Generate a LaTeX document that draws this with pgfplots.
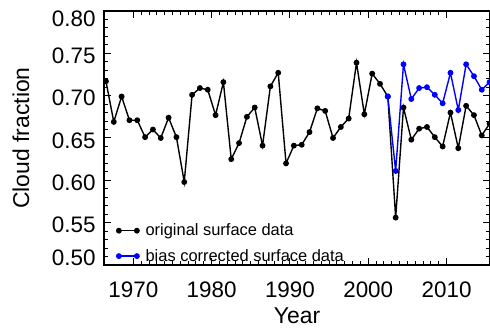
\documentclass[border=0pt]{standalone}
\usepackage{fontspec}
\setmainfont{Liberation Sans}
\usepackage{pgfplots}
\pgfplotsset{compat=1.18}
\definecolor{bluec}{RGB}{0,0,255}
\begin{document}
\begin{tikzpicture}
\begin{axis}[
  at={(0,0)}, anchor=south west,
  scale only axis, width=386bp, height=254bp,
  xmin=1966.25, xmax=2015.55, ymin=0.5, ymax=0.8,
  xtick={1970,1980,1990,2000,2010}, minor x tick num=9,
  ytick={0.50,0.55,0.60,0.65,0.70,0.75,0.80}, minor y tick num=4,
  yticklabels={\raisebox{10bp}{0.50},0.55,0.60,0.65,0.70,0.75,\raisebox{-6bp}{0.80}},
  tick align=inside, major tick length=7bp, minor tick length=4bp,
  tick style={black, line width=1bp},
  axis line style={line width=1.3bp},
  ticklabel style={font=\fontsize{22.5}{26}\selectfont},
  xticklabel style={anchor=base, yshift=-32bp},
  yticklabel style={anchor=base east, xshift=-5bp, yshift=-10bp},
  /pgf/number format/1000 sep={},
  /pgf/number format/assume math mode=true,
  xlabel={Year}, ylabel={Cloud fraction},
  every axis x label/.style={at={(rel axis cs:0.5,0)}, anchor=base, yshift=-58bp, font=\fontsize{23}{27}\selectfont},
  every axis y label/.style={at={(rel axis cs:-0.215,0.5)}, rotate=90, anchor=center, font=\fontsize{23}{27}\selectfont},
  legend style={draw=none, fill=none, at={(rel axis cs:0,0)}, anchor=south west, xshift=8bp, yshift=-2bp,
    font=\fontsize{16.5}{19}\selectfont, row sep=8bp, column sep=0bp, nodes={inner sep=2bp}},
  legend cell align=left,
  legend image code/.code={\draw[#1] plot coordinates {(0bp,0bp) (18bp,0bp)}; \path (-3bp,0bp) (24bp,0bp);},
]
\addplot[black, line width=1.4bp, mark=*, mark size=2.2bp] coordinates {
(1966.5,0.717) (1967.5,0.669) (1968.5,0.699) (1969.5,0.671) (1970.5,0.671)
(1971.5,0.651) (1972.5,0.660) (1973.5,0.650) (1974.5,0.674) (1975.5,0.651)
(1976.5,0.598) (1977.5,0.701) (1978.5,0.709) (1979.5,0.707) (1980.5,0.677)
(1981.5,0.716) (1982.5,0.625) (1983.5,0.644) (1984.5,0.675) (1985.5,0.686)
(1986.5,0.641) (1987.5,0.711) (1988.5,0.727) (1989.5,0.620) (1990.5,0.641)
(1991.5,0.642) (1992.5,0.657) (1993.5,0.685) (1994.5,0.682) (1995.5,0.650)
(1996.5,0.663) (1997.5,0.673) (1998.5,0.739) (1999.5,0.678) (2000.5,0.726)
(2001.5,0.714) (2002.5,0.699) (2003.5,0.556) (2004.5,0.686) (2005.5,0.648)
(2006.5,0.661) (2007.5,0.663) (2008.5,0.651) (2009.5,0.640) (2010.5,0.680)
(2011.5,0.638) (2012.5,0.688) (2013.5,0.677) (2014.5,0.653) (2015.5,0.667)
};
\addlegendentry{original surface data}
\addplot[bluec, line width=1.4bp, mark=*, mark size=2.2bp] coordinates {
(2002.5,0.699) (2003.5,0.611) (2004.5,0.737) (2005.5,0.696) (2006.5,0.709)
(2007.5,0.710) (2008.5,0.701) (2009.5,0.691) (2010.5,0.727) (2011.5,0.683)
(2012.5,0.737) (2013.5,0.723) (2014.5,0.707) (2015.5,0.716)
};
\addlegendentry{bias corrected surface data}
\end{axis}
\pgfresetboundingbox
\path (-104bp,-64bp) rectangle (386bp,265bp);
\end{tikzpicture}
\end{document}
